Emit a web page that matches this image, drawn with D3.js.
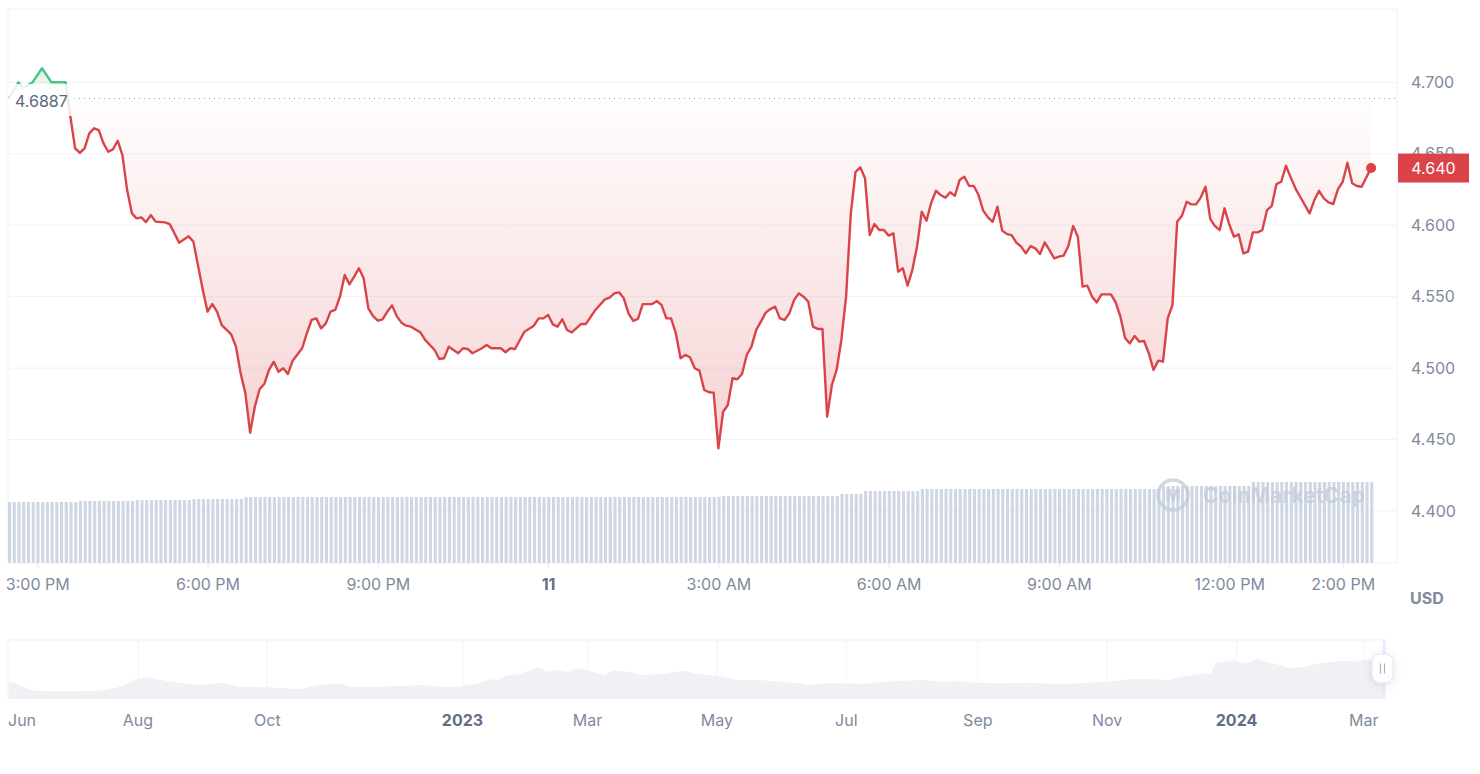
<!DOCTYPE html>
<html>
<head>
<meta charset="utf-8">
<script src="https://cdn.jsdelivr.net/npm/d3@7"></script>
<style>
  html, body { margin: 0; padding: 0; background: #fff; }
  svg { display: block; font-family: Inter, "Noto Sans", sans-serif; }
</style>
</head>
<body>
<svg id="chart" width="1480" height="774"></svg>
<script>
// 24h price, minutes after 10 Mar 2024 14:30
const priceMinutes = [
  0, 10, 15, 25, 35, 45, 60, 65, 70, 75, 80, 85, 90, 95, 100, 105, 110, 115, 120, 125,
  130, 135, 140, 145, 150, 155, 165, 170, 180, 190, 195, 205, 210, 215, 220, 225, 235, 240, 245, 250,
  255, 260, 265, 270, 275, 280, 285, 290, 295, 300, 310, 315, 320, 325, 330, 335, 340, 345, 350, 355,
  360, 365, 370, 375, 380, 385, 390, 395, 400, 405, 410, 415, 420, 425, 435, 440, 450, 455, 460, 465,
  475, 480, 485, 490, 500, 505, 510, 520, 525, 530, 535, 545, 555, 560, 565, 570, 575, 580, 585, 590,
  595, 605, 610, 620, 630, 635, 640, 645, 650, 655, 660, 665, 670, 680, 685, 690, 695, 700, 705, 710,
  715, 720, 725, 730, 735, 740, 745, 750, 755, 760, 765, 770, 775, 780, 785, 790, 795, 800, 805, 810,
  815, 820, 825, 830, 835, 840, 845, 850, 855, 860, 865, 870, 875, 880, 885, 890, 895, 900, 905, 910,
  915, 920, 925, 930, 935, 940, 945, 950, 955, 960, 965, 970, 975, 980, 985, 990, 995, 1000, 1005, 1010,
  1015, 1020, 1025, 1030, 1035, 1040, 1045, 1050, 1055, 1060, 1065, 1070, 1075, 1080, 1085, 1090, 1095, 1100, 1105, 1110,
  1115, 1120, 1125, 1130, 1135, 1140, 1145, 1150, 1155, 1165, 1170, 1175, 1180, 1185, 1190, 1195, 1200, 1205, 1210, 1215,
  1220, 1225, 1230, 1235, 1240, 1245, 1250, 1255, 1260, 1265, 1270, 1275, 1280, 1285, 1290, 1295, 1300, 1305, 1310, 1315,
  1320, 1325, 1330, 1335, 1340, 1345, 1350, 1355, 1360, 1365, 1375, 1380, 1385, 1390, 1395, 1400, 1405, 1410, 1415, 1420,
  1425, 1430, 1440
]
const prices = [
  4.6887, 4.7000, 4.6958, 4.7000, 4.7098, 4.7000, 4.7000, 4.6759, 4.6538, 4.6507, 4.6538, 4.6643, 4.6678, 4.6666, 4.6573, 4.6514, 4.6531, 4.6591, 4.6491, 4.6246,
  4.6083, 4.6048, 4.6055, 4.6022, 4.6071, 4.6025, 4.6020, 4.6008, 4.5878, 4.5922, 4.5885, 4.5547, 4.5395, 4.5448, 4.5395, 4.5301, 4.5236, 4.5150, 4.4963, 4.4823,
  4.4548, 4.4730, 4.4852, 4.4889, 4.4987, 4.5045, 4.4975, 4.4999, 4.4959, 4.5052, 4.5139, 4.5244, 4.5337, 4.5348, 4.5278, 4.5313, 4.5395, 4.5407, 4.5500, 4.5651,
  4.5586, 4.5640, 4.5698, 4.5628, 4.5418, 4.5364, 4.5332, 4.5341, 4.5395, 4.5439, 4.5364, 4.5318, 4.5297, 4.5290, 4.5250, 4.5197, 4.5127, 4.5064, 4.5069, 4.5150,
  4.5104, 4.5139, 4.5134, 4.5104, 4.5139, 4.5162, 4.5139, 4.5139, 4.5111, 4.5139, 4.5134, 4.5255, 4.5297, 4.5348, 4.5348, 4.5372, 4.5306, 4.5290, 4.5341, 4.5267,
  4.5250, 4.5309, 4.5309, 4.5407, 4.5481, 4.5493, 4.5523, 4.5530, 4.5488, 4.5383, 4.5330, 4.5344, 4.5448, 4.5448, 4.5469, 4.5441, 4.5348, 4.5348, 4.5244, 4.5069,
  4.5092, 4.5076, 4.4999, 4.4982, 4.4847, 4.4831, 4.4828, 4.4439, 4.4695, 4.4742, 4.4929, 4.4922, 4.4959, 4.5092, 4.5150, 4.5267, 4.5325, 4.5388, 4.5413, 4.5430,
  4.5348, 4.5337, 4.5383, 4.5476, 4.5523, 4.5500, 4.5465, 4.5290, 4.5274, 4.5274, 4.4660, 4.4882, 4.4987, 4.5197, 4.5500, 4.6083, 4.6374, 4.6405, 4.6328, 4.5931,
  4.6008, 4.5966, 4.5966, 4.5927, 4.5943, 4.5675, 4.5698, 4.5577, 4.5686, 4.5850, 4.6094, 4.6031, 4.6157, 4.6241, 4.6211, 4.6192, 4.6230, 4.6206, 4.6316, 4.6339,
  4.6276, 4.6274, 4.6211, 4.6101, 4.6055, 4.6024, 4.6129, 4.5962, 4.5938, 4.5931, 4.5878, 4.5850, 4.5803, 4.5854, 4.5838, 4.5798, 4.5880, 4.5826, 4.5768, 4.5780,
  4.5787, 4.5854, 4.5994, 4.5919, 4.5570, 4.5577, 4.5500, 4.5460, 4.5516, 4.5516, 4.5460, 4.5360, 4.5209, 4.5173, 4.5225, 4.5185, 4.5190, 4.5104, 4.4987, 4.5052,
  4.5045, 4.5348, 4.5441, 4.6024, 4.6066, 4.6164, 4.6146, 4.6146, 4.6195, 4.6269, 4.6043, 4.5994, 4.5966, 4.6118, 4.6008, 4.5919, 4.5936, 4.5803, 4.5815, 4.5950,
  4.5950, 4.5966, 4.6106, 4.6136, 4.6288, 4.6304, 4.6416, 4.6335, 4.6258, 4.6199, 4.6083, 4.6176, 4.6241, 4.6188, 4.6160, 4.6148, 4.6253, 4.6304, 4.6437, 4.6293,
  4.6274, 4.6269, 4.6400
]
const openPrice = 4.6887
const lastPrice = 4.640

// 24h volume at each 5 min step (289 bars)
const volumes = [
  61, 61, 61, 61, 61, 61, 61, 61, 61, 61, 61, 61,
  61, 61, 61, 62, 62, 62, 62, 62, 62, 62, 62, 62,
  62, 62, 62, 63, 63, 63, 63, 63, 63, 63, 63, 63,
  63, 63, 63, 64, 64, 64, 64, 64, 64, 64, 64, 64,
  64, 64, 66, 66, 66, 66, 66, 66, 66, 66, 66, 66,
  66, 66, 66, 66, 66, 66, 66, 66, 66, 66, 66, 66,
  66, 66, 66, 66, 66, 66, 66, 66, 66, 66, 66, 66,
  66, 66, 66, 66, 66, 66, 66, 66, 66, 66, 66, 66,
  66, 66, 66, 66, 66, 66, 66, 66, 66, 66, 66, 66,
  66, 66, 66, 66, 66, 66, 66, 66, 66, 66, 66, 66,
  66, 66, 66, 66, 66, 66, 66, 66, 66, 66, 66, 66,
  66, 66, 66, 66, 66, 66, 66, 66, 66, 66, 66, 66,
  66, 66, 66, 66, 66, 66, 66, 67, 67, 67, 67, 67,
  67, 67, 67, 67, 67, 67, 67, 67, 67, 67, 67, 67,
  67, 67, 67, 67, 67, 67, 67, 67, 69, 69, 69, 69,
  69, 72, 72, 72, 72, 72, 72, 72, 72, 72, 72, 72,
  72, 74, 74, 74, 74, 74, 74, 74, 74, 74, 74, 74,
  74, 74, 74, 74, 74, 74, 74, 74, 74, 74, 74, 74,
  74, 74, 74, 74, 74, 74, 74, 74, 74, 74, 74, 74,
  74, 74, 74, 74, 74, 74, 74, 74, 74, 74, 74, 74,
  74, 74, 74, 74, 77, 77, 77, 77, 77, 77, 77, 77,
  77, 77, 77, 77, 77, 77, 77, 77, 77, 77, 77, 81,
  81, 81, 81, 81, 81, 81, 81, 81, 81, 81, 81, 81,
  81, 81, 81, 81, 81, 81, 81, 81, 81, 81, 81, 81,
  81
]

const priceTicks = [4.40, 4.45, 4.50, 4.55, 4.60, 4.65, 4.70]
const timeTicks = ['2024-03-10 15:00', '2024-03-10 18:00', '2024-03-10 21:00', '2024-03-11 00:00',
  '2024-03-11 03:00', '2024-03-11 06:00', '2024-03-11 09:00', '2024-03-11 12:00', '2024-03-11 14:00']
const timeTickLabels = ['3:00 PM', '6:00 PM', '9:00 PM', '11', '3:00 AM', '6:00 AM', '9:00 AM', '12:00 PM', '2:00 PM']

// long range navigator
const navDates = [
  '2022-06-01', '2022-06-04', '2022-06-08', '2022-06-13', '2022-06-20', '2022-07-04', '2022-07-14', '2022-07-19', '2022-07-23', '2022-07-28',
  '2022-07-31', '2022-08-04', '2022-08-07', '2022-08-14', '2022-08-21', '2022-08-31', '2022-09-09', '2022-09-18', '2022-10-02', '2022-10-16',
  '2022-10-25', '2022-11-04', '2022-11-09', '2022-11-23', '2022-12-02', '2022-12-14', '2022-12-21', '2022-12-30', '2023-01-09', '2023-01-14',
  '2023-01-18', '2023-01-21', '2023-01-28', '2023-02-03', '2023-02-06', '2023-02-10', '2023-02-15', '2023-02-20', '2023-02-24', '2023-03-02',
  '2023-03-09', '2023-03-13', '2023-03-20', '2023-03-27', '2023-04-06', '2023-04-15', '2023-04-23', '2023-05-01', '2023-05-11', '2023-05-21',
  '2023-05-31', '2023-06-09', '2023-06-13', '2023-06-20', '2023-06-30', '2023-07-09', '2023-07-16', '2023-07-28', '2023-08-07', '2023-08-14',
  '2023-08-23', '2023-09-01', '2023-09-11', '2023-09-25', '2023-10-09', '2023-10-20', '2023-11-02', '2023-11-11', '2023-11-21', '2023-11-30',
  '2023-12-06', '2023-12-14', '2023-12-20', '2023-12-22', '2023-12-26', '2023-12-31', '2024-01-04', '2024-01-08', '2024-01-11', '2024-01-14',
  '2024-01-21', '2024-01-26', '2024-02-02', '2024-02-09', '2024-02-16', '2024-02-21', '2024-02-25', '2024-03-01', '2024-03-06', '2024-03-10'
]
const navValues = [
  2.06, 1.90, 1.43, 0.99, 0.92, 0.92, 0.99, 1.19, 1.43, 1.90,
  2.38, 2.58, 2.50, 2.18, 1.90, 1.67, 1.94, 1.46, 1.39, 1.15,
  1.67, 1.87, 1.46, 1.46, 1.55, 1.67, 1.46, 1.46, 1.90, 2.35,
  2.26, 2.74, 2.98, 3.54, 3.77, 3.25, 3.45, 3.25, 3.65, 3.37,
  2.86, 3.37, 3.25, 2.86, 2.98, 3.37, 2.94, 2.77, 2.26, 2.26,
  2.06, 1.87, 1.67, 1.87, 1.87, 1.79, 1.99, 2.18, 2.26, 2.06,
  2.11, 1.94, 1.87, 1.94, 1.79, 1.87, 2.06, 2.35, 2.35, 2.26,
  2.65, 2.98, 3.06, 4.25, 4.44, 4.64, 4.25, 4.44, 4.85, 4.44,
  4.05, 3.65, 3.85, 4.25, 4.44, 4.56, 4.44, 4.64, 4.64, 4.64
]
const navTicks = ['2022-06-01', '2022-08-01', '2022-10-01', '2023-01-01', '2023-03-01', '2023-05-01',
  '2023-07-01', '2023-09-01', '2023-11-01', '2024-01-01', '2024-03-01']
const navTickLabels = ['Jun', 'Aug', 'Oct', '2023', 'Mar', 'May', 'Jul', 'Sep', 'Nov', '2024', 'Mar']
const boldLabels = ['11', '2023', '2024']

const red = '#da4449'
const green = '#4cc283'
const textGrey = '#808a9d'
const textDark = '#616e85'
const lineGrey = '#eff1f4'

const svg = d3.select('#chart')
const plotLeft = 8, plotRight = 1397, plotTop = 9, plotBottom = 563

const start = new Date(2024, 2, 10, 14, 30)
const toTime = m => new Date(start.getTime() + m * 60000)
const parseTick = d3.timeParse('%Y-%m-%d %H:%M')
const parseDay = d3.timeParse('%Y-%m-%d')

const x = d3.scaleTime().domain([toTime(0), toTime(1440)]).range([8.9, 1371.1])
const y = d3.scaleLinear().domain([4.40, 4.70]).range([511, 82.3])
const yVol = d3.scaleLinear().domain([0, 100]).range([plotBottom, plotBottom - 100])

const series = priceMinutes.map((m, i) => ({ t: toTime(m), p: prices[i] }))
const yOpen = y(openPrice)

const defs = svg.append('defs')
defs.append('clipPath').attr('id', 'above')
  .append('rect').attr('x', plotLeft).attr('y', plotTop).attr('width', plotRight - plotLeft).attr('height', yOpen - plotTop)
defs.append('clipPath').attr('id', 'below')
  .append('rect').attr('x', plotLeft).attr('y', yOpen).attr('width', plotRight - plotLeft).attr('height', plotBottom - yOpen)

const redGrad = defs.append('linearGradient').attr('id', 'redGrad')
  .attr('gradientUnits', 'userSpaceOnUse').attr('x1', 0).attr('x2', 0)
  .attr('y1', yOpen).attr('y2', y(4.44))
redGrad.append('stop').attr('offset', 0).attr('stop-color', red).attr('stop-opacity', 0.01)
redGrad.append('stop').attr('offset', 1).attr('stop-color', red).attr('stop-opacity', 0.24)

const greenGrad = defs.append('linearGradient').attr('id', 'greenGrad')
  .attr('gradientUnits', 'userSpaceOnUse').attr('x1', 0).attr('x2', 0)
  .attr('y1', yOpen).attr('y2', y(4.712))
greenGrad.append('stop').attr('offset', 0).attr('stop-color', green).attr('stop-opacity', 0.03)
greenGrad.append('stop').attr('offset', 1).attr('stop-color', green).attr('stop-opacity', 0.22)

const shadow = defs.append('filter').attr('id', 'shadow')
  .attr('x', '-80%').attr('y', '-80%').attr('width', '260%').attr('height', '260%')
shadow.append('feDropShadow').attr('dx', 0).attr('dy', 1).attr('stdDeviation', 4)
  .attr('flood-color', '#58667e').attr('flood-opacity', 0.18)

// grid + frame
svg.append('g').selectAll('line').data(priceTicks).join('line')
  .attr('x1', plotLeft).attr('x2', plotRight)
  .attr('y1', d => y(d)).attr('y2', d => y(d))
  .attr('stroke', '#f2f3f5').attr('stroke-width', 1)

svg.append('rect').attr('x', plotLeft).attr('y', plotTop)
  .attr('width', plotRight - plotLeft).attr('height', plotBottom - plotTop)
  .attr('fill', 'none').attr('stroke', lineGrey).attr('stroke-width', 1)

// volume bars
svg.append('g').selectAll('rect').data(volumes).join('rect')
  .attr('x', (d, i) => x(toTime(i * 5)) - 0.9)
  .attr('width', 3.1)
  .attr('y', d => yVol(d))
  .attr('height', d => plotBottom - yVol(d))
  .attr('fill', '#cfd6e4')

// watermark
const wm = svg.append('g').attr('opacity', 0.75)
wm.append('circle').attr('cx', 1173).attr('cy', 495).attr('r', 15)
  .attr('fill', 'none').attr('stroke', '#c4cbd8').attr('stroke-width', 3.5)
wm.append('text').attr('x', 1173).attr('y', 501).attr('text-anchor', 'middle')
  .attr('font-size', 16).attr('font-weight', 800).attr('fill', '#c4cbd8').text('M')
wm.append('text').attr('x', 1203).attr('y', 503)
  .attr('font-size', 21).attr('font-weight', 700).attr('fill', '#c4cbd8')
  .attr('textLength', 162).text('CoinMarketCap')

// areas
const area = d3.area().x(d => x(d.t)).y0(yOpen).y1(d => y(d.p))
svg.append('path').datum(series).attr('d', area)
  .attr('fill', 'url(#redGrad)').attr('clip-path', 'url(#below)')
svg.append('path').datum(series).attr('d', area)
  .attr('fill', 'url(#greenGrad)').attr('clip-path', 'url(#above)')

// open price reference
svg.append('line').attr('x1', 74).attr('x2', plotRight).attr('y1', yOpen).attr('y2', yOpen)
  .attr('stroke', '#9aa3b5').attr('stroke-width', 1).attr('stroke-dasharray', '1 4')

// price line
const line = d3.line().x(d => x(d.t)).y(d => y(d.p))
svg.append('path').datum(series).attr('d', line)
  .attr('fill', 'none').attr('stroke', red).attr('stroke-width', 2.4)
  .attr('stroke-linejoin', 'round').attr('clip-path', 'url(#below)')
svg.append('path').datum(series).attr('d', line)
  .attr('fill', 'none').attr('stroke', green).attr('stroke-width', 2.4)
  .attr('stroke-linejoin', 'round').attr('clip-path', 'url(#above)')

// open price label
svg.append('rect').attr('x', plotLeft + 0.5).attr('y', 84).attr('width', 66).attr('height', 32)
  .attr('fill', '#fff').attr('opacity', 0.85)
svg.append('text').attr('x', 15).attr('y', 106.5)
  .attr('font-size', 16).attr('fill', '#58667e').text(openPrice.toFixed(4))

// last point
const last = series[series.length - 1]
svg.append('circle').attr('cx', x(last.t)).attr('cy', y(last.p)).attr('r', 5).attr('fill', red)

// right axis
const yAxis = svg.append('g').attr('transform', `translate(${plotRight},0)`)
  .call(d3.axisRight(y).tickValues(priceTicks).tickFormat(d3.format('.3f')).tickSize(0).tickPadding(14))
yAxis.select('.domain').remove()
yAxis.selectAll('text').attr('font-size', 16).attr('font-family', 'Inter, sans-serif').attr('fill', textGrey)

// last price tag
svg.append('rect').attr('x', plotRight + 1).attr('y', y(lastPrice) - 14.5).attr('width', 71).attr('height', 29)
  .attr('fill', red)
svg.append('text').attr('x', plotRight + 36.5).attr('y', y(lastPrice) + 5.8).attr('text-anchor', 'middle')
  .attr('font-size', 16).attr('fill', '#fff').text(lastPrice.toFixed(3))

// bottom axis
const xAxis = svg.append('g').attr('transform', `translate(0,${plotBottom})`)
  .call(d3.axisBottom(x).tickValues(timeTicks.map(parseTick))
    .tickFormat((d, i) => timeTickLabels[i]).tickSize(5).tickPadding(11))
xAxis.select('.domain').remove()
xAxis.selectAll('line').attr('stroke', '#e6e9ee')
xAxis.selectAll('text').attr('font-size', 16).attr('font-family', 'Inter, sans-serif')
  .attr('fill', (d, i) => boldLabels.includes(timeTickLabels[i]) ? textDark : textGrey)
  .attr('font-weight', (d, i) => boldLabels.includes(timeTickLabels[i]) ? 700 : 400)

svg.append('text').attr('x', 1410).attr('y', 604)
  .attr('font-size', 16).attr('font-weight', 700).attr('fill', textGrey).text('USD')

// navigator
const navLeft = 8, navRight = 1385.6, navTop = 640, navBottom = 699
const navX = d3.scaleTime().domain([parseDay('2022-06-01'), parseDay('2024-03-11')]).range([8.6, 1385])
const navY = d3.scaleLinear().domain([0, 7]).range([navBottom, navBottom - 58.8])
const navSeries = navDates.map((d, i) => ({ t: parseDay(d), v: navValues[i] }))

const nav = svg.append('g')
nav.selectAll('line.grid').data(navTicks.slice(1)).join('line').attr('class', 'grid')
  .attr('x1', d => navX(parseDay(d))).attr('x2', d => navX(parseDay(d)))
  .attr('y1', navTop).attr('y2', navBottom).attr('stroke', '#f1f2f4')
nav.append('line').attr('x1', navLeft).attr('x2', navRight).attr('y1', navTop).attr('y2', navTop)
  .attr('stroke', lineGrey)
nav.append('line').attr('x1', navLeft).attr('x2', navLeft).attr('y1', navTop).attr('y2', navBottom)
  .attr('stroke', lineGrey)
nav.append('path').datum(navSeries)
  .attr('d', d3.area().x(d => navX(d.t)).y0(navBottom).y1(d => navY(d.v)))
  .attr('fill', '#eff1f5')
nav.append('rect').attr('x', 1382.8).attr('y', navTop).attr('width', 2.8).attr('height', navBottom - navTop)
  .attr('fill', '#3861fb').attr('opacity', 0.12)

nav.selectAll('text').data(navTicks).join('text')
  .attr('x', (d, i) => i === 0 ? navLeft : navX(parseDay(d)))
  .attr('y', 726)
  .attr('text-anchor', (d, i) => i === 0 ? 'start' : 'middle')
  .attr('font-size', 16)
  .attr('font-weight', (d, i) => boldLabels.includes(navTickLabels[i]) ? 700 : 400)
  .attr('fill', (d, i) => boldLabels.includes(navTickLabels[i]) ? textDark : textGrey)
  .text((d, i) => navTickLabels[i])

// handle
const handle = nav.append('g').attr('transform', 'translate(1382.5,668.5)')
handle.append('rect').attr('x', -10.5).attr('y', -14.5).attr('width', 21).attr('height', 29).attr('rx', 8)
  .attr('fill', '#fff').attr('stroke', '#e3e6ec').attr('filter', 'url(#shadow)')
handle.selectAll('line').data([-2, 2]).join('line')
  .attr('x1', d => d).attr('x2', d => d).attr('y1', -5).attr('y2', 5)
  .attr('stroke', '#a6afc0').attr('stroke-width', 1.2)
</script>
</body>
</html>
